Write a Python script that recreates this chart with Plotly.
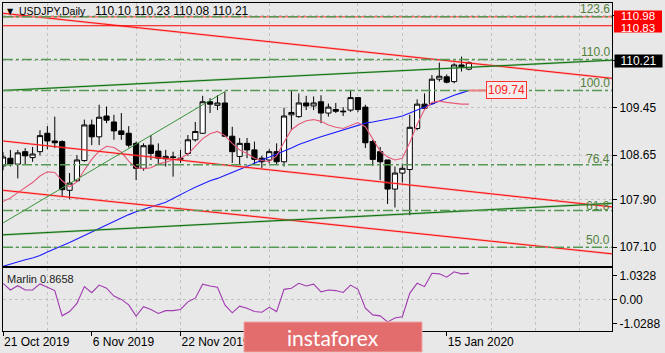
import plotly.graph_objects as go

# ---------------- data ----------------
bar_idx = list(range(64))
open_ = [108.47, 108.60, 108.50, 108.71, 108.61, 108.71, 109.02, 108.89, 108.88, 108.06,
         108.22, 108.56, 109.16, 108.96, 109.31, 109.21, 109.06, 109.02, 108.85, 108.43,
         108.82, 108.72, 108.59, 108.61, 108.58, 108.68, 108.91, 109.02, 109.55, 109.49,
         109.53, 108.97, 108.63, 108.85, 108.74, 108.60, 108.57, 108.71, 108.54, 109.33,
         109.30, 109.53, 109.48, 109.55, 109.36, 109.42, 109.38, 109.41, 109.62, 109.46,
         108.88, 108.71, 108.57, 108.08, 108.35, 108.41, 109.10, 109.51, 109.52, 109.93,
         109.97, 109.89, 110.17, 110.10]
high = [108.70, 108.74, 108.74, 108.77, 108.79, 109.07, 109.14, 109.30, 108.90, 108.35,
        108.65, 109.25, 109.25, 109.50, 109.47, 109.33, 109.36, 109.14, 108.88, 108.85,
        108.99, 108.85, 108.74, 108.71, 108.74, 108.99, 109.21, 109.65, 109.61, 109.66,
        109.72, 109.13, 108.94, 108.94, 108.88, 108.64, 108.75, 108.85, 109.45, 109.74,
        109.69, 109.65, 109.64, 109.66, 109.52, 109.53, 109.46, 109.75, 109.63, 109.50,
        108.91, 108.79, 108.57, 108.46, 108.51, 109.33, 109.59, 109.69, 110.00, 110.21,
        110.01, 110.20, 110.31, 110.23]
low = [108.40, 108.46, 108.26, 108.50, 108.54, 108.65, 108.75, 108.77, 107.95, 107.91,
       108.20, 108.54, 108.82, 108.82, 109.19, 108.91, 108.91, 108.78, 108.23, 108.39,
       108.57, 108.49, 108.46, 108.29, 108.52, 108.64, 108.88, 109.01, 109.36, 109.41,
       108.96, 108.52, 108.49, 108.60, 108.49, 108.43, 108.51, 108.49, 108.46, 109.07,
       109.28, 109.41, 109.41, 109.19, 109.30, 109.36, 109.31, 109.38, 109.38, 108.77,
       108.47, 108.23, 107.83, 107.77, 108.19, 107.64, 109.07, 109.41, 109.50, 109.89,
       109.86, 109.86, 110.06, 110.08]
close = [108.62, 108.50, 108.69, 108.64, 108.67, 108.98, 108.89, 108.86, 108.07, 108.18,
         108.57, 109.16, 108.96, 109.29, 109.24, 109.06, 109.00, 108.82, 108.43, 108.81,
         108.68, 108.60, 108.63, 108.62, 108.60, 108.91, 109.05, 109.55, 109.51, 109.53,
         108.97, 108.71, 108.85, 108.74, 108.58, 108.54, 108.71, 108.54, 109.31, 109.37,
         109.53, 109.48, 109.53, 109.36, 109.46, 109.39, 109.39, 109.62, 109.42, 108.86,
         108.58, 108.54, 108.08, 108.35, 108.43, 109.12, 109.51, 109.44, 109.93, 109.98,
         109.88, 110.17, 110.14, 110.21]

ma_blue = [106.78, 106.82, 106.86, 106.89, 106.92, 106.96, 107.02, 107.07, 107.12, 107.18,
           107.24, 107.30, 107.36, 107.42, 107.48, 107.54, 107.59, 107.65, 107.70, 107.74,
           107.78, 107.81, 107.86, 107.92, 107.99, 108.05, 108.11, 108.17, 108.22, 108.26,
           108.31, 108.36, 108.41, 108.46, 108.51, 108.56, 108.61, 108.66, 108.71, 108.77,
           108.83, 108.88, 108.92, 108.96, 109.00, 109.04, 109.08, 109.12, 109.16, 109.19,
           109.21, 109.23, 109.25, 109.28, 109.31, 109.36, 109.41, 109.46, 109.51, 109.57,
           109.62, 109.66, 109.70, 109.74]
ma_pink = [107.87, 107.93, 108.02, 108.10, 108.19, 108.30, 108.37, 108.36, 108.22, 108.12,
           108.20, 108.40, 108.58, 108.72, 108.80, 108.78, 108.70, 108.55, 108.44, 108.42,
           108.44, 108.50, 108.54, 108.57, 108.60, 108.67, 108.80, 108.93, 109.01, 109.05,
           108.98, 108.85, 108.74, 108.68, 108.60, 108.56, 108.54, 108.64, 108.87, 109.08,
           109.17, 109.23, 109.25, 109.22, 109.16, 109.12, 109.10, 109.15, 109.20, 109.13,
           108.93, 108.72, 108.62, 108.57, 108.60, 108.86, 109.17, 109.42, 109.54, 109.56,
           109.54, 109.52, 109.51, 109.51]
marlin = [0.54, 0.32, 0.46, 0.32, 0.32, 0.52, 0.41, 0.30, -0.53, -0.39,
          -0.12, 0.43, 0.23, 0.48, 0.38, 0.12, 0.01, -0.17, -0.54, -0.23,
          -0.32, -0.45, -0.36, -0.36, -0.32, -0.07, 0.05, 0.51, 0.45, 0.41,
          -0.17, -0.43, -0.21, -0.28, -0.39, -0.41, -0.25, -0.39, 0.34, 0.375,
          0.54, 0.45, 0.51, 0.26, 0.32, 0.30, 0.24, 0.48, 0.34, -0.28,
          -0.50, -0.53, -0.73, -0.60, -0.56, 0.21, 0.54, 0.43, 0.87, 0.85,
          0.74, 0.92, 0.85, 0.8658]

date_tick_idx = [0, 12, 24, 36, 48, 60]
date_tick_text = ["21 Oct 2019", "6 Nov 2019", "22 Nov 2019", "", "", "15 Jan 2020"]
v_grid_idx = [6, 18, 24, 36, 48, 54, 66, 72, 78]

price_tick_vals = [111.00, 110.25, 109.45, 108.65, 107.90, 107.10]
price_tick_text = ["", "", "109.45", "108.65", "107.90", "107.10"]
marlin_tick_vals = [0.78, 0.0, -0.776]
marlin_tick_text = ["1.0328", "0.00", "-1.0288"]

fib_names = ["123.6", "110.0", "100.0", "76.4", "61.8", "50.0"]
fib_prices = [110.98, 110.26, 109.74, 108.49, 107.72, 107.10]

red_hlines = [110.98, 110.83]

# trend lines: (x0, y0, x1, y1) in bar index / price
red_lines = [(0, 111.04, 82.35, 109.945),
             (0, 108.89, 82.35, 107.78),
             (0, 108.06, 82.35, 106.99)]
green_lines = [(0, 109.74, 82.35, 110.25),
               (0, 107.31, 82.35, 107.84)]
green_thin = (0, 107.51, 30, 109.72)

symbol = "USDJPY,Daily"
marlin_name = "Marlin"

# ---------------- layout helpers ----------------
W, H = 665, 353
ML, MR, MT, MB = 3, 53, 3, 22
PW = W - ML - MR
PH = H - MT - MB


def xp(px):
    return (px - ML) / PW


def yp(py):
    return (H - MB - py) / PH


BG = "#e8e8e8"
GRID = "#c2c2c2"
FONT = "Liberation Sans"

fig = go.Figure()

fig.add_trace(go.Candlestick(
    x=bar_idx, open=open_, high=high, low=low, close=close,
    increasing=dict(line=dict(color="black", width=1), fillcolor="white"),
    decreasing=dict(line=dict(color="black", width=1), fillcolor="black"),
    whiskerwidth=0, hoverinfo="skip", xaxis="x", yaxis="y"))

fig.add_trace(go.Scatter(x=bar_idx, y=ma_blue, mode="lines",
                         line=dict(color="#1c1cff", width=1.1), xaxis="x", yaxis="y"))
fig.add_trace(go.Scatter(x=bar_idx, y=ma_pink, mode="lines",
                         line=dict(color="#e65a78", width=1.1), xaxis="x", yaxis="y"))

for (x0, y0, x1, y1) in red_lines:
    fig.add_trace(go.Scatter(x=[x0, x1], y=[y0, y1], mode="lines",
                             line=dict(color="rgba(255,110,110,0.45)", width=2.2), xaxis="x", yaxis="y"))
    fig.add_trace(go.Scatter(x=[x0, x1], y=[y0, y1], mode="lines",
                             line=dict(color="#ff1010", width=1), xaxis="x", yaxis="y"))
for (x0, y0, x1, y1) in green_lines:
    fig.add_trace(go.Scatter(x=[x0, x1], y=[y0, y1], mode="lines",
                             line=dict(color="rgba(90,160,90,0.45)", width=2.2), xaxis="x", yaxis="y"))
    fig.add_trace(go.Scatter(x=[x0, x1], y=[y0, y1], mode="lines",
                             line=dict(color="#0a700a", width=1), xaxis="x", yaxis="y"))
fig.add_trace(go.Scatter(x=[green_thin[0], green_thin[2]], y=[green_thin[1], green_thin[3]],
                         mode="lines", line=dict(color="#3a923a", width=1), xaxis="x", yaxis="y"))

fig.add_trace(go.Scatter(x=bar_idx, y=marlin, mode="lines",
                         line=dict(color="#a03ab0", width=1.1), xaxis="x2", yaxis="y2"))

shapes = []
# red horizontal lines
shapes.append(dict(type="line", xref="x domain", yref="y", x0=0, x1=1,
                   y0=red_hlines[0], y1=red_hlines[0], line=dict(color="#ff6a6a", width=1.5), layer="above"))
shapes.append(dict(type="line", xref="x domain", yref="y", x0=0, x1=1,
                   y0=red_hlines[1], y1=red_hlines[1], line=dict(color="#ff0000", width=1), layer="above"))
# fibo levels
for p in fib_prices:
    shapes.append(dict(type="line", xref="x domain", yref="y", x0=0, x1=1, y0=p, y1=p,
                       line=dict(color="#559955", width=1.5, dash="10px,3px,3px,3px"), layer="above"))
# connector to MA value label
last_i = bar_idx[-1]
shapes.append(dict(type="line", xref="x", yref="y", x0=last_i, x1=last_i + 2.3,
                   y0=ma_blue[-1], y1=ma_blue[-1], line=dict(color="#f08080", width=2), layer="above"))
# red block behind the two stacked right-hand price boxes
shapes.append(dict(type="rect", xref="paper", yref="paper", x0=xp(614), x1=xp(662),
                   y0=yp(32.5), y1=yp(10.5), fillcolor="#ff0000", line=dict(width=0), layer="above"))
# instaforex logo box
shapes.append(dict(type="rect", xref="paper", yref="paper", x0=xp(244), x1=xp(422),
                   y0=yp(352), y1=yp(322), fillcolor="#e36d6d",
                   line=dict(color="#f2a4a4", width=1), layer="above"))

annotations = []
fib_shift = {"123.6": -1, "110.0": -1, "100.0": -2, "76.4": -3, "61.8": -5, "50.0": -2}
for name, p in zip(fib_names, fib_prices):
    annotations.append(dict(xref="paper", yref="y", x=1, y=p, xanchor="right", yanchor="bottom",
                            text=name, showarrow=False, yshift=fib_shift[name],
                            font=dict(family=FONT, size=12, color="#52803c")))

# price boxes on the right (stacked, as in the reference)
annotations.append(dict(xref="paper", yref="paper", x=xp(614), y=yp(16), xanchor="left",
                        yanchor="middle", text=f"{red_hlines[0]:.2f}", showarrow=False,
                        width=46, height=10, borderpad=0,
                        font=dict(family=FONT, size=11.5, color="white")))
annotations.append(dict(xref="paper", yref="paper", x=xp(614), y=yp(27.5), xanchor="left",
                        yanchor="middle", text=f"{red_hlines[1]:.2f}", showarrow=False,
                        width=46, height=10, borderpad=0,
                        font=dict(family=FONT, size=11.5, color="white")))
annotations.append(dict(xref="paper", yref="y", x=xp(614), y=close[-1], xanchor="left",
                        yanchor="middle", text=f"{close[-1]:.2f}", showarrow=False,
                        bgcolor="black", width=46, height=11, borderpad=0.5, yshift=1.5,
                        font=dict(family=FONT, size=12, color="white")))
# MA value label
annotations.append(dict(xref="x", yref="y", x=last_i + 2.3, y=ma_blue[-1], xanchor="left",
                        yanchor="middle", text=f"{ma_blue[-1]:.2f}", showarrow=False,
                        bgcolor="#f3eded", bordercolor="#ff3030", borderwidth=1, borderpad=1,
                        font=dict(family=FONT, size=12, color="#ff2020")))
# header
annotations.append(dict(xref="paper", yref="paper", x=xp(5), y=yp(11.5), xanchor="left",
                        yanchor="middle", text="▼", showarrow=False,
                        font=dict(family="DejaVu Sans", size=8, color="black")))
annotations.append(dict(xref="paper", yref="paper", x=xp(17), y=yp(11.5), xanchor="left",
                        yanchor="middle", text=symbol, showarrow=False,
                        font=dict(family=FONT, size=10.5, color="black")))
annotations.append(dict(xref="paper", yref="paper", x=xp(93), y=yp(11.5), xanchor="left",
                        yanchor="middle",
                        text=f"{open_[-1]:.2f} {high[-1]:.2f} {low[-1]:.2f} {close[-1]:.2f}",
                        showarrow=False, font=dict(family=FONT, size=12, color="black")))
annotations.append(dict(xref="paper", yref="paper", x=xp(5), y=yp(278.5), xanchor="left",
                        yanchor="middle", text=f"{marlin_name} {marlin[-1]:.4f}", showarrow=False,
                        font=dict(family=FONT, size=11, color="#222")))
annotations.append(dict(xref="paper", yref="paper", x=xp(333), y=yp(337), xanchor="center",
                        yanchor="middle", text="instaforex", showarrow=False,
                        font=dict(family="Lato", size=21, color="white")))

x_range = [0.0, 82.35]
axis_common = dict(showline=True, linecolor="black", linewidth=1, mirror=True, zeroline=False)

fig.update_layout(
    width=W, height=H, margin=dict(l=ML, r=MR, t=MT, b=MB),
    paper_bgcolor=BG, plot_bgcolor=BG, showlegend=False, hovermode=False,
    boxgap=0.3, boxgroupgap=0,
    font=dict(family=FONT, size=12, color="black"),
    xaxis=dict(domain=[0, 1], anchor="y", range=x_range, showticklabels=False, ticks="",
               showgrid=False, rangeslider=dict(visible=False),
               minor=dict(tickvals=v_grid_idx, showgrid=True, gridcolor=GRID, griddash="3px,3px",
                          gridwidth=1, ticks=""),
               **axis_common),
    yaxis=dict(domain=[yp(266), 1], anchor="x", side="right", range=[106.785, 111.213],
               tickvals=price_tick_vals, ticktext=price_tick_text, ticks="outside", ticklen=4,
               tickcolor="black", showgrid=True, gridcolor=GRID, griddash="3px,3px",
               tickfont=dict(family=FONT, size=12, color="black"), **axis_common),
    xaxis2=dict(domain=[0, 1], anchor="y2", matches="x", range=x_range,
                tickvals=date_tick_idx, ticktext=date_tick_text, ticks="outside", ticklen=4,
                tickcolor="black", ticklabelposition="outside right", showgrid=False,
                tickfont=dict(family=FONT, size=12, color="black"),
                minor=dict(tickvals=v_grid_idx, showgrid=True, gridcolor=GRID, griddash="3px,3px",
                           gridwidth=1, ticks=""),
                **axis_common),
    yaxis2=dict(domain=[0, yp(268.3)], anchor="x2", side="right", range=[-1.0288, 1.0328],
                tickvals=marlin_tick_vals, ticktext=marlin_tick_text, ticks="outside", ticklen=4,
                tickcolor="black", showgrid=False,
                minor=dict(tickvals=[0], showgrid=True, gridcolor=GRID, griddash="3px,3px", ticks=""),
                tickfont=dict(family=FONT, size=12, color="black"), **axis_common),
    shapes=shapes, annotations=annotations,
)

fig.write_html("out.html")
